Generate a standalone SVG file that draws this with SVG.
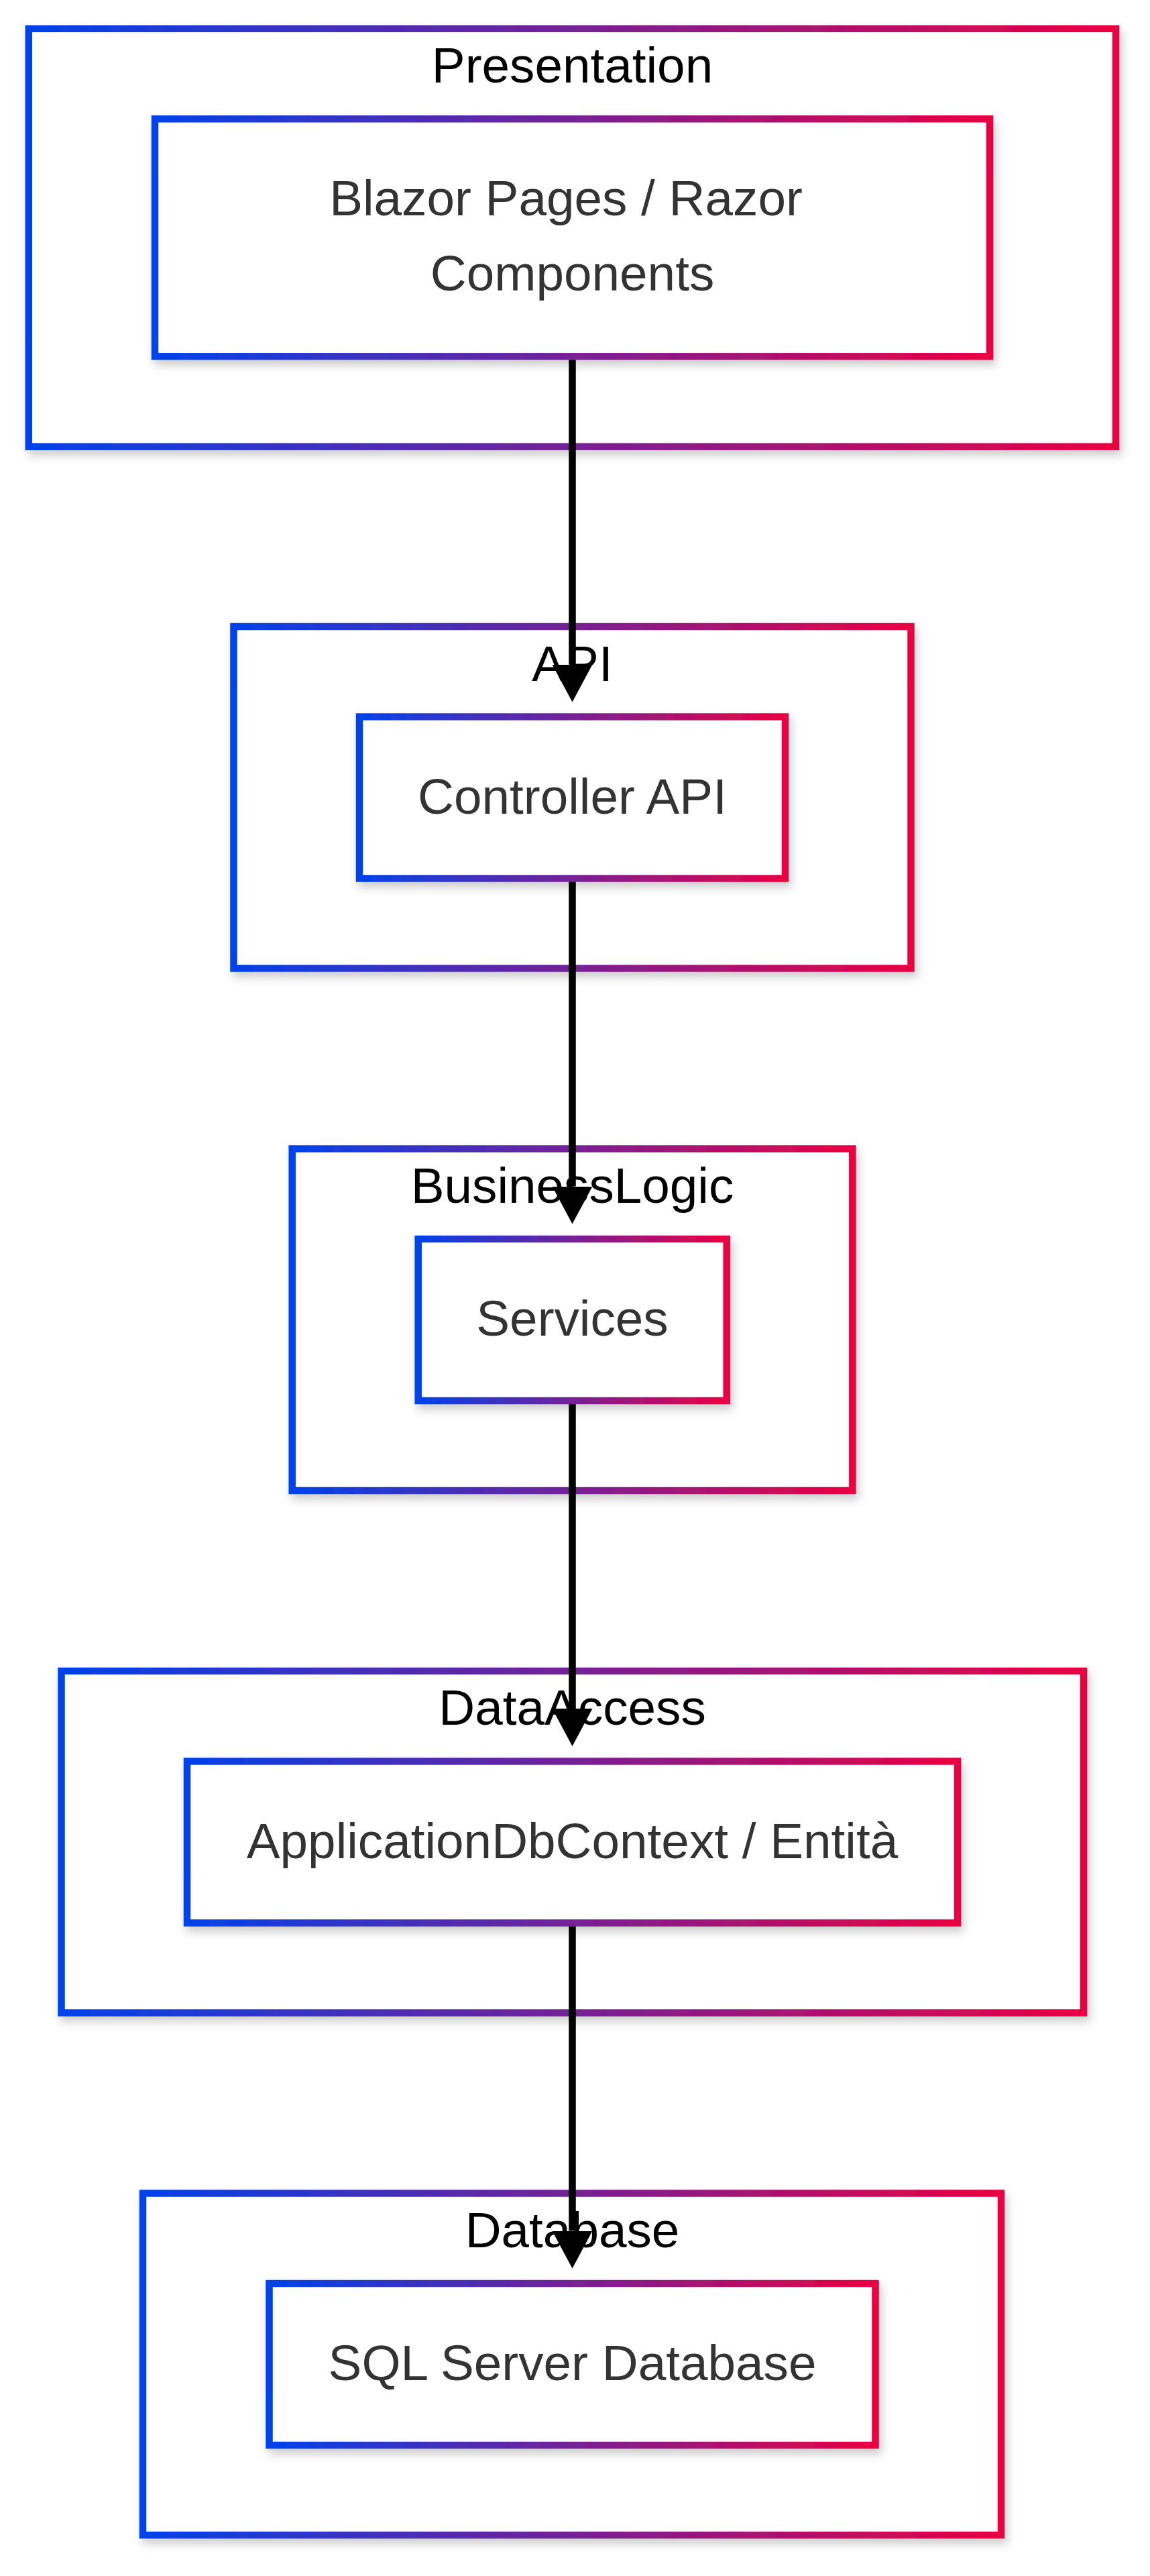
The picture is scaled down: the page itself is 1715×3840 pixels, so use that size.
<svg xmlns="http://www.w3.org/2000/svg" width="1715" height="3840" viewBox="0 0 1715 3840">
  <defs>
    <linearGradient id="grad" x1="0" y1="0" x2="1" y2="0">
      <stop offset="0" stop-color="#0042EB"/>
      <stop offset="1" stop-color="#EB0042"/>
    </linearGradient>
    <filter id="shadow" x="-10%" y="-10%" width="120%" height="125%">
      <feDropShadow dx="4" dy="8" stdDeviation="7" flood-color="#000" flood-opacity="0.2"/>
    </filter>
    <marker id="arrow" viewBox="0 0 56 60" refX="0" refY="30" markerWidth="56" markerHeight="60" markerUnits="userSpaceOnUse" orient="auto">
      <path d="M0,0 L56,30 L0,60 Z" fill="#000"/>
    </marker>
  </defs>
  <style>
    .box { fill: #ffffff; stroke: url(#grad); stroke-width: 10.5; filter: url(#shadow); }
    .title { font-family: "Liberation Sans", Arial, sans-serif; font-size: 74.7px; fill: #000; text-anchor: middle; }
    .label { font-family: "Liberation Sans", Arial, sans-serif; font-size: 74.7px; fill: #333333; text-anchor: middle; }
    .edge { stroke: #000; stroke-width: 10.5; fill: none; }
  </style>
  <rect width="1715" height="3840" fill="#ffffff"/>

  <g id="cluster-presentation">
    <rect class="box" x="42.8" y="42.8" width="1621.2" height="623"/>
    <text class="title" x="853.5" y="123">Presentation</text>
  </g>
  <g id="cluster-api">
    <rect class="box" x="348.5" y="934" width="1010" height="509.5"/>
    <text class="title" x="853.5" y="1014.5">API</text>
  </g>
  <g id="cluster-businesslogic">
    <rect class="box" x="435.7" y="1712.5" width="835.6" height="509.5"/>
    <text class="title" x="853.5" y="1793">BusinessLogic</text>
  </g>
  <g id="cluster-dataaccess">
    <rect class="box" x="91.5" y="2491" width="1524.5" height="509.5"/>
    <text class="title" x="853.5" y="2571">DataAccess</text>
  </g>
  <g id="cluster-database">
    <rect class="box" x="213" y="3269.5" width="1280" height="509.5"/>
    <text class="title" x="853.5" y="3349.5">Database</text>
  </g>

  <g id="node-blazor">
    <rect class="box" x="231" y="177.3" width="1245" height="354"/>
    <text class="label" x="844" y="321">Blazor Pages / Razor</text>
    <text class="label" x="853.5" y="433">Components</text>
  </g>
  <g id="node-controller">
    <rect class="box" x="536" y="1068.5" width="635" height="241"/>
    <text class="label" x="853.5" y="1212.5">Controller API</text>
  </g>
  <g id="node-services">
    <rect class="box" x="623.7" y="1847" width="460" height="241"/>
    <text class="label" x="853.5" y="1991">Services</text>
  </g>
  <g id="node-dbcontext">
    <rect class="box" x="279" y="2625.5" width="1149" height="241"/>
    <text class="label" x="853.5" y="2769.5">ApplicationDbContext / Entità</text>
  </g>
  <g id="node-sql">
    <rect class="box" x="401.5" y="3404" width="904" height="241"/>
    <text class="label" x="853.5" y="3548">SQL Server Database</text>
  </g>

  <g id="connectors">
    <line class="edge" x1="853.5" y1="536.5" x2="853.5" y2="990.5" marker-end="url(#arrow)"/>
    <line class="edge" x1="853.5" y1="1314.5" x2="853.5" y2="1768.5" marker-end="url(#arrow)"/>
    <line class="edge" x1="853.5" y1="2093" x2="853.5" y2="2547" marker-end="url(#arrow)"/>
    <line class="edge" x1="853.5" y1="2871.5" x2="853.5" y2="3325.5" marker-end="url(#arrow)"/>
  </g>
</svg>
